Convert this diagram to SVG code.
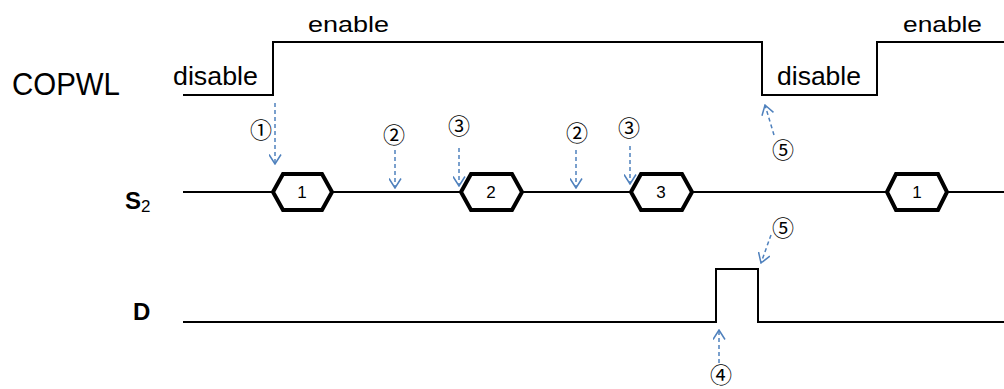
<svg xmlns="http://www.w3.org/2000/svg" width="1004" height="389" viewBox="0 0 1004 389">
<defs>
<marker id="ah" markerUnits="userSpaceOnUse" viewBox="0 0 11 13" markerWidth="11" markerHeight="13" refX="10" refY="6.5" orient="auto">
<path d="M0.5,0.5 L10,6.5 L0.5,12.5" fill="none" stroke="#4f81bd" stroke-width="1.5"/>
</marker>
</defs>
<style>
.wave{fill:none;stroke:#000;stroke-width:2}
.hex{fill:#fff;stroke:#000;stroke-width:4;stroke-linejoin:miter}
.lbl{font-family:"Liberation Sans",Arial,sans-serif;fill:#000}
.hexlbl{font-family:"Liberation Sans",Arial,sans-serif;font-size:17px;text-anchor:middle;fill:#000}
.circ{font-family:"Noto Sans CJK JP","DejaVu Sans",sans-serif;font-size:22px;text-anchor:middle;fill:#000}
.arr{fill:none;stroke:#4f81bd;stroke-width:1.5;stroke-dasharray:4 3;marker-end:url(#ah)}
</style>
<rect width="1004" height="389" fill="#fff"/>
<g id="labels">
<text class="lbl" x="12" y="95" font-size="31" textLength="108" lengthAdjust="spacingAndGlyphs">COPWL</text>
<text class="lbl" x="125" y="209" font-size="24" font-weight="bold">S<tspan font-size="17" font-weight="normal" dy="3">2</tspan></text>
<text class="lbl" x="133" y="320" font-size="24" font-weight="bold">D</text>
</g>
<g id="copwl">
<polyline class="wave" points="183,95 273,95 273,42 762,42 762,95 877,95 877,42 1004,42"/>
<text class="lbl" x="173" y="85" font-size="26" textLength="85" lengthAdjust="spacingAndGlyphs">disable</text>
<text class="lbl" x="308" y="32" font-size="22" textLength="81" lengthAdjust="spacingAndGlyphs">enable</text>
<text class="lbl" x="777" y="85" font-size="26" textLength="84" lengthAdjust="spacingAndGlyphs">disable</text>
<text class="lbl" x="903" y="32" font-size="22" textLength="79" lengthAdjust="spacingAndGlyphs">enable</text>
</g>
<g id="s2">
<line class="wave" x1="183" y1="192" x2="1004" y2="192"/>
<g id="hex1"><polygon class="hex" points="273,192 283,174 322,174 332,192 322,210 283,210"/><text class="hexlbl" x="302" y="198">1</text></g>
<g id="hex2"><polygon class="hex" points="461,192 471,174 512,174 522,192 512,210 471,210"/><text class="hexlbl" x="491" y="198">2</text></g>
<g id="hex3"><polygon class="hex" points="631,192 641,174 682,174 692,192 682,210 641,210"/><text class="hexlbl" x="661" y="198">3</text></g>
<g id="hex4"><polygon class="hex" points="887,192 896,174 938,174 947,192 938,210 896,210"/><text class="hexlbl" x="917" y="198">1</text></g>
</g>
<g id="d">
<polyline class="wave" points="183,322 716,322 716,269 758,269 758,322 1004,322"/>
</g>
<g id="connectors">
<line class="arr" x1="275" y1="103" x2="275" y2="164"/>
<line class="arr" x1="395" y1="150" x2="395" y2="188"/>
<line class="arr" x1="459" y1="148" x2="459" y2="186"/>
<line class="arr" x1="576" y1="150" x2="576" y2="188"/>
<line class="arr" x1="630" y1="146" x2="630" y2="184"/>
<line class="arr" x1="774" y1="135" x2="765" y2="105"/>
<line class="arr" x1="771" y1="235" x2="761" y2="263"/>
<line class="arr" x1="719" y1="363" x2="719" y2="330"/>
</g>
<g id="markers">
<text class="circ" x="261" y="138">①</text>
<text class="circ" x="394" y="143">②</text>
<text class="circ" x="459" y="134">③</text>
<text class="circ" x="577" y="141">②</text>
<text class="circ" x="629" y="136">③</text>
<text class="circ" x="783" y="158">⑤</text>
<text class="circ" x="783" y="236">⑤</text>
<text class="circ" x="721" y="383">④</text>
</g>
</svg>
